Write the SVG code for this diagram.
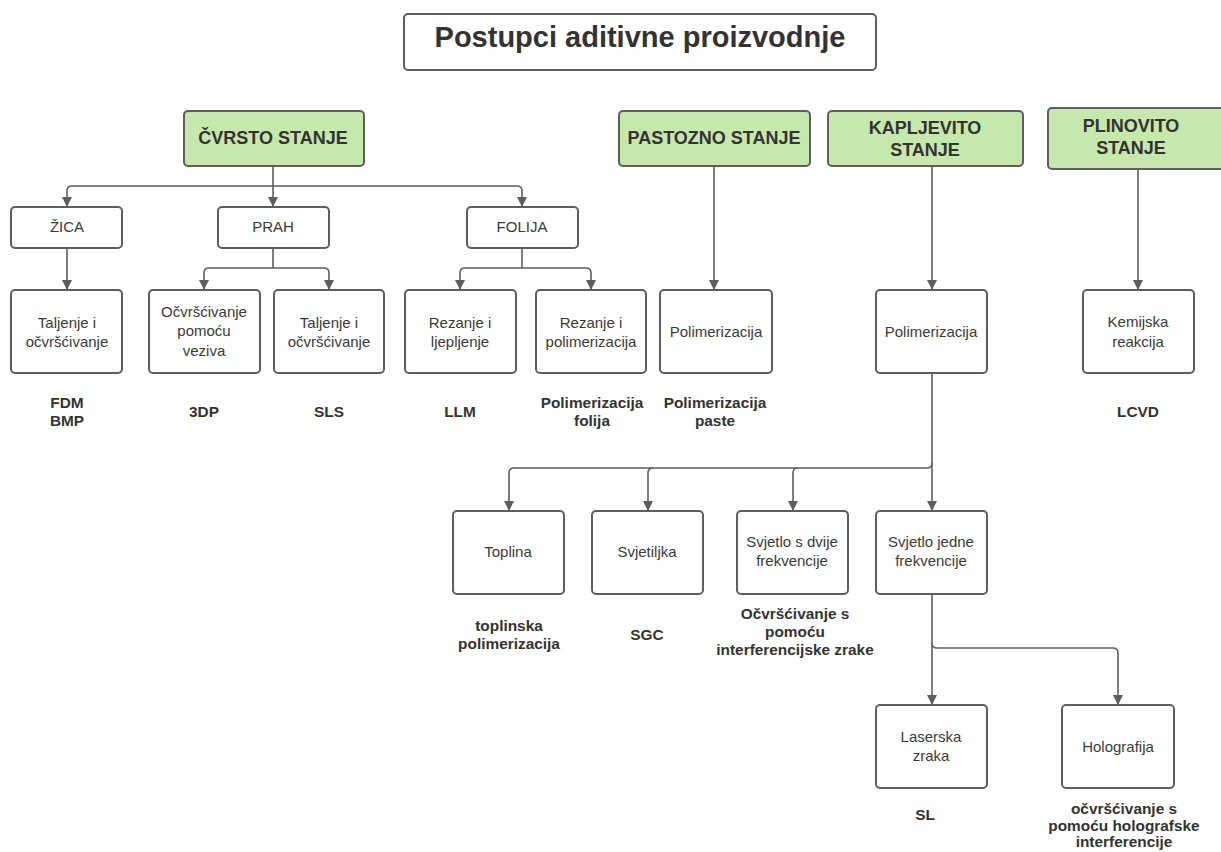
<svg xmlns="http://www.w3.org/2000/svg" width="1221" height="852" viewBox="0 0 1221 852">
<style>
.box{fill:#ffffff;stroke:#5e5e5e;stroke-width:2}
.hdr{fill:#c7e8ad;stroke:#5e5e5e;stroke-width:2}
.t{font-family:"Liberation Sans",Arial,sans-serif;font-size:15px;fill:#3a3a3a;text-anchor:middle}
.h{font-family:"Liberation Sans",Arial,sans-serif;font-size:18px;font-weight:bold;fill:#333;text-anchor:middle}
.b{font-family:"Liberation Sans",Arial,sans-serif;font-size:15.4px;font-weight:bold;fill:#333;text-anchor:middle}
.c{fill:none;stroke:#5e5e5e;stroke-width:1.6}
</style>
<defs>
<marker id="ah" viewBox="0 0 10 10" refX="10" refY="5" markerWidth="10" markerHeight="10" markerUnits="userSpaceOnUse" orient="auto">
<path d="M0,0 L10,5 L0,10 z" fill="#5e5e5e"/>
</marker>
</defs>
<rect width="1221" height="852" fill="#ffffff"/>

<g id="connectors">
<path class="c" d="M273,166 V186" />
<path class="c" d="M273,186 H72 Q67,186 67,191 V207" marker-end="url(#ah)"/>
<path class="c" d="M273,186 V207" marker-end="url(#ah)"/>
<path class="c" d="M273,186 H517 Q522,186 522,191 V207" marker-end="url(#ah)"/>
<path class="c" d="M67,248 V290" marker-end="url(#ah)"/>
<path class="c" d="M273,248 V268"/>
<path class="c" d="M273,268 H209 Q204,268 204,273 V290" marker-end="url(#ah)"/>
<path class="c" d="M273,268 H324 Q329,268 329,273 V290" marker-end="url(#ah)"/>
<path class="c" d="M522,248 V268"/>
<path class="c" d="M522,268 H465 Q460,268 460,273 V290" marker-end="url(#ah)"/>
<path class="c" d="M522,268 H586 Q591,268 591,273 V290" marker-end="url(#ah)"/>
<path class="c" d="M714,166 V290" marker-end="url(#ah)"/>
<path class="c" d="M932,166 V290" marker-end="url(#ah)"/>
<path class="c" d="M1138,169 V290" marker-end="url(#ah)"/>
<path class="c" d="M932,373 V511" marker-end="url(#ah)"/>
<path class="c" d="M932,463 Q932,468 927,468 H514 Q509,468 509,473 V511" marker-end="url(#ah)"/>
<path class="c" d="M653,468 Q648,468 648,473 V511" marker-end="url(#ah)"/>
<path class="c" d="M798,468 Q793,468 793,473 V511" marker-end="url(#ah)"/>
<path class="c" d="M932,594 V705" marker-end="url(#ah)"/>
<path class="c" d="M932,643 Q932,648 937,648 H1113 Q1118,648 1118,653 V705" marker-end="url(#ah)"/>
</g>

<g id="title">
<rect class="box" x="404" y="14" width="472" height="56" rx="4"/>
<text x="640" y="47" style="font-family:'Liberation Sans',Arial,sans-serif;font-size:29px;font-weight:bold;fill:#333;text-anchor:middle">Postupci aditivne proizvodnje</text>
</g>

<g id="cvrsto"><rect class="hdr" x="184" y="111" width="180" height="55" rx="4"/><text class="h" x="273" y="144">ČVRSTO STANJE</text></g>
<g id="pastozno"><rect class="hdr" x="619" y="111" width="191" height="55" rx="4"/><text class="h" x="714" y="144">PASTOZNO STANJE</text></g>
<g id="kapljevito"><rect class="hdr" x="828" y="111" width="195" height="55" rx="4"/><text class="h" x="925" y="134">KAPLJEVITO</text><text class="h" x="925" y="156">STANJE</text></g>
<g id="plinovito"><rect class="hdr" x="1048" y="108" width="180" height="61" rx="4"/><text class="h" x="1131" y="132">PLINOVITO</text><text class="h" x="1131" y="154">STANJE</text></g>

<g id="zica"><rect class="box" x="11" y="207" width="111" height="41" rx="4"/><text class="t" x="67" y="232">ŽICA</text></g>
<g id="prah"><rect class="box" x="218" y="207" width="111" height="41" rx="4"/><text class="t" x="273" y="232">PRAH</text></g>
<g id="folija"><rect class="box" x="467" y="207" width="111" height="41" rx="4"/><text class="t" x="522" y="232">FOLIJA</text></g>

<g id="taljenje1"><rect class="box" x="11" y="290" width="111" height="83" rx="4"/><text class="t" x="67" y="328">Taljenje i</text><text class="t" x="67" y="347">očvršćivanje</text></g>
<g id="ocvrscivanje"><rect class="box" x="149" y="290" width="111" height="83" rx="4"/><text class="t" x="204" y="317">Očvršćivanje</text><text class="t" x="204" y="336">pomoću</text><text class="t" x="204" y="356">veziva</text></g>
<g id="taljenje2"><rect class="box" x="274" y="290" width="110" height="83" rx="4"/><text class="t" x="329" y="328">Taljenje i</text><text class="t" x="329" y="347">očvršćivanje</text></g>
<g id="rezanje1"><rect class="box" x="405" y="290" width="111" height="83" rx="4"/><text class="t" x="460" y="328">Rezanje i</text><text class="t" x="460" y="347">ljepljenje</text></g>
<g id="rezanje2"><rect class="box" x="536" y="290" width="110" height="83" rx="4"/><text class="t" x="591" y="328">Rezanje i</text><text class="t" x="591" y="347">polimerizacija</text></g>
<g id="polim1"><rect class="box" x="660" y="290" width="112" height="83" rx="4"/><text class="t" x="716" y="337">Polimerizacija</text></g>
<g id="polim2"><rect class="box" x="876" y="290" width="111" height="83" rx="4"/><text class="t" x="931" y="337">Polimerizacija</text></g>
<g id="kemijska"><rect class="box" x="1083" y="290" width="111" height="83" rx="4"/><text class="t" x="1138" y="327">Kemijska</text><text class="t" x="1138" y="347">reakcija</text></g>

<g id="labels1">
<text class="b" x="67" y="408">FDM</text><text class="b" x="67" y="426">BMP</text>
<text class="b" x="204" y="417">3DP</text>
<text class="b" x="329" y="417">SLS</text>
<text class="b" x="460" y="417">LLM</text>
<text class="b" x="592" y="408">Polimerizacija</text><text class="b" x="592" y="426">folija</text>
<text class="b" x="715" y="408">Polimerizacija</text><text class="b" x="715" y="426">paste</text>
<text class="b" x="1138" y="417">LCVD</text>
</g>

<g id="toplina"><rect class="box" x="453" y="511" width="111" height="83" rx="4"/><text class="t" x="508" y="557">Toplina</text></g>
<g id="svjetiljka"><rect class="box" x="592" y="511" width="111" height="83" rx="4"/><text class="t" x="647" y="557">Svjetiljka</text></g>
<g id="dvije"><rect class="box" x="737" y="511" width="111" height="83" rx="4"/><text class="t" x="792" y="547">Svjetlo s dvije</text><text class="t" x="792" y="566">frekvencije</text></g>
<g id="jedne"><rect class="box" x="876" y="511" width="111" height="83" rx="4"/><text class="t" x="931" y="547">Svjetlo jedne</text><text class="t" x="931" y="566">frekvencije</text></g>

<g id="labels2">
<text class="b" x="509" y="631">toplinska</text><text class="b" x="509" y="649">polimerizacija</text>
<text class="b" x="647" y="640">SGC</text>
<text class="b" x="795" y="619">Očvršćivanje s</text><text class="b" x="795" y="637">pomoću</text><text class="b" x="795" y="655">interferencijske zrake</text>
</g>

<g id="laserska"><rect class="box" x="876" y="705" width="111" height="83" rx="4"/><text class="t" x="931" y="742">Laserska</text><text class="t" x="931" y="761">zraka</text></g>
<g id="holografija"><rect class="box" x="1062" y="705" width="112" height="83" rx="4"/><text class="t" x="1118" y="752">Holografija</text></g>

<g id="labels3">
<text class="b" x="925" y="820">SL</text>
<text class="b" x="1124" y="814">očvršćivanje s</text><text class="b" x="1124" y="831">pomoću holografske</text><text class="b" x="1124" y="847">interferencije</text>
</g>
</svg>
